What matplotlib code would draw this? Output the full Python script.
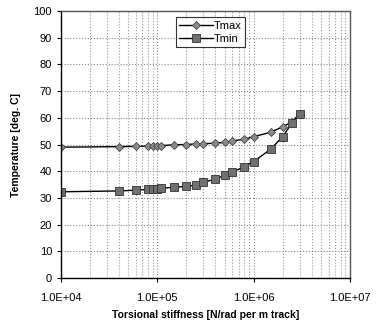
import matplotlib
matplotlib.use('Agg')
import matplotlib.pyplot as plt
from matplotlib.ticker import LogLocator, FuncFormatter, MultipleLocator

plt.rcParams['font.family'] = ['Liberation Sans', 'DejaVu Sans']

# torsional stiffness [N/rad per m track]
stiffness = [1e4, 4e4, 6e4, 8e4, 9e4, 1e5, 1.1e5, 1.5e5, 2e5, 2.5e5,
             3e5, 4e5, 5e5, 6e5, 8e5, 1e6, 1.5e6, 2e6, 2.5e6, 3e6]
tmax = [49.0, 49.2, 49.3, 49.4, 49.5, 49.5, 49.6, 49.9, 50.0, 50.2,
        50.3, 50.5, 50.8, 51.3, 52.0, 52.9, 54.6, 56.6, 58.5, 61.5]
tmin = [32.3, 32.6, 32.9, 33.2, 33.4, 33.5, 33.6, 34.0, 34.3, 34.8,
        35.8, 37.0, 38.5, 39.6, 41.7, 43.6, 48.2, 52.9, 58.0, 61.5]

fig = plt.figure(figsize=(3.77, 3.24), dpi=100)
ax = fig.add_axes([0.162, 0.142, 0.766, 0.824])

ax.plot(stiffness, tmax, color='black', lw=1.0, marker='D', ms=4.5,
        mfc='#8a8a8a', mec='#444444', mew=0.6, label='Tmax')
ax.plot(stiffness, tmin, color='black', lw=1.0, marker='s', ms=5.5,
        mfc='#707070', mec='#333333', mew=0.6, label='Tmin')

ax.set_xscale('log')
ax.set_xlim(1e4, 1e7)
ax.set_ylim(0, 100)
ax.yaxis.set_major_locator(MultipleLocator(10))
ax.xaxis.set_major_locator(LogLocator(base=10))
ax.xaxis.set_minor_locator(LogLocator(base=10, subs=range(2, 10)))
ax.xaxis.set_major_formatter(FuncFormatter(lambda v, p: '%.1E' % v))

ax.grid(True, which='major', color='#888888', ls=':', lw=0.8)
ax.grid(True, which='minor', axis='x', color='#999999', ls=':', lw=0.8)

ax.tick_params(axis='both', which='major', labelsize=8, length=3, direction='out')
ax.tick_params(axis='x', which='minor', length=0)
ax.tick_params(axis='x', pad=8)
for s in ax.spines.values():
    s.set_linewidth(1.0)
ax.spines['top'].set_color('#555555')
ax.spines['right'].set_color('#555555')

ax.set_xlabel('Torsional stiffness [N/rad per m track]', fontsize=7.5,
              fontweight='bold', labelpad=5)
ax.set_ylabel('Temperature [deg. C]', fontsize=7.5, fontweight='bold', labelpad=9)

leg = ax.legend(loc='upper left', bbox_to_anchor=(0.39, 0.985), fontsize=8,
                frameon=True, fancybox=False, edgecolor='black',
                handlelength=3.0, borderpad=0.3, labelspacing=0.3,
                handletextpad=0.1, borderaxespad=0.2)
leg.get_frame().set_linewidth(0.8)

fig.savefig('out.png', dpi=100)
